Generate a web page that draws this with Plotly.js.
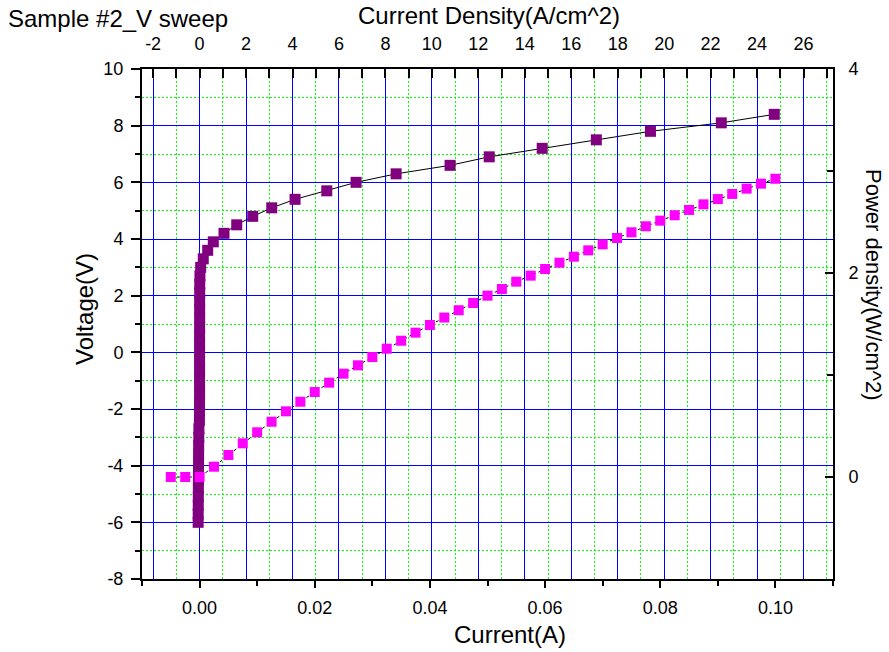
<!DOCTYPE html>
<html>
<head>
<meta charset="utf-8">
<script src="https://cdn.plot.ly/plotly-3.0.1.min.js"></script>
<style>
  html, body { margin: 0; padding: 0; background: #ffffff; }
  #chart { width: 889px; height: 652px; }
</style>
</head>
<body>
<div id="chart"></div>
<script>
// ---- Data ----
// Sample #2, voltage sweep: voltage (V) and measured current (A)
const sweepVoltageV = [
  -6.0, -5.7, -5.4, -5.1, -4.8, -4.5, -4.2, -3.9, -3.6, -3.3,
  -3.0, -2.7, -2.4, -2.1, -1.8, -1.5, -1.2, -0.9, -0.6, -0.3,
   0.0,  0.3,  0.6,  0.9,  1.2,  1.5,  1.8,  2.1,  2.4,  2.7,
   3.0,  3.3,  3.6,  3.9,  4.2,  4.5,  4.8,  5.1,  5.4,  5.7,
   6.0,  6.3,  6.6,  6.9,  7.2,  7.5,  7.8,  8.1,  8.4
];
const sweepCurrentA = [
  -0.00025, -0.00024, -0.00023, -0.00022, -0.00021, -0.00020, -0.00019, -0.00018, -0.00017, -0.00016,
  -0.00014, -0.00012, -0.00003, -0.00002, -0.00001,  0.00000,  0.00000,  0.00000,  0.00000,  0.00000,
   0.00000,  0.00000,  0.00000,  0.00001,  0.00001,  0.00001,  0.00001,  0.00002,  0.00003,  0.00006,
   0.00019,  0.00064,  0.00141,  0.00238,  0.00424,  0.00645,  0.00923,  0.01253,  0.01658,  0.02209,
   0.02718,  0.03413,  0.04350,  0.05030,  0.05950,  0.06890,  0.07830,  0.09060,  0.09980
];

// Power density (W/cm^2) against current (A)
const powerCurrentA = [
  -0.0050, -0.0025, 0.0000, 0.0025, 0.0050, 0.0075, 0.0100, 0.0125, 0.0150, 0.0175,
   0.0200, 0.0225, 0.0250, 0.0275, 0.0300, 0.0325, 0.0350, 0.0375, 0.0400, 0.0425,
   0.0450, 0.0475, 0.0500, 0.0525, 0.0550, 0.0575, 0.0600, 0.0625, 0.0650, 0.0675,
   0.0700, 0.0725, 0.0750, 0.0775, 0.0800, 0.0825, 0.0850, 0.0875, 0.0900, 0.0925,
   0.0950, 0.0975, 0.1000
];
const powerDensityWcm2 = [
  0.000, 0.000, 0.000, 0.101, 0.216, 0.330, 0.438, 0.542, 0.644, 0.738,
  0.833, 0.925, 1.013, 1.095, 1.176, 1.258, 1.336, 1.415, 1.490, 1.563,
  1.635, 1.706, 1.778, 1.843, 1.915, 1.974, 2.039, 2.101, 2.160, 2.222,
  2.281, 2.343, 2.399, 2.458, 2.513, 2.566, 2.618, 2.673, 2.725, 2.775,
  2.827, 2.876, 2.924
];

// Device area used for the Current Density (top) axis
const deviceAreaCm2 = 0.004034;

// Axis ranges
const currentRangeA = [-0.01, 0.11];
const voltageRangeV = [-8, 10];
const powerRange = [-1, 4];

// Tick labels (plain hyphen minus, as in the original)
const voltageTickVals = [-8, -6, -4, -2, 0, 2, 4, 6, 8, 10];
const voltageTickText = ['-8', '-6', '-4', '-2', '0', '2', '4', '6', '8', '10'];
const densityTickVals = [-2, 0, 2, 4, 6, 8, 10, 12, 14, 16, 18, 20, 22, 24, 26];
const densityTickText = ['-2', '0', '2', '4', '6', '8', '10', '12', '14', '16', '18', '20', '22', '24', '26'];
const powerTickVals = [0, 2, 4];
const powerTickText = ['0', '2', '4'];

// Text
const chartTitle = 'Sample #2_V sweep';
const bottomTitle = 'Current(A)';
const topTitle = 'Current Density(A/cm^2)';
const leftTitle = 'Voltage(V)';
const rightTitle = 'Power density(W/cm^2)';

// ---- Styling ----
const FONT = 'Liberation Sans, Arial, Helvetica, sans-serif';
const BLUE = '#0000ff';
const GREEN = '#00ff00';
const PLOT_L = 142, PLOT_R = 833, PLOT_T = 69, PLOT_B = 579;
const PW = PLOT_R - PLOT_L, PH = PLOT_B - PLOT_T;
const px2paperX = (px) => (px - PLOT_L) / PW;
const px2paperY = (py) => (PLOT_B - py) / PH;

const traces = [
  {
    name: 'V sweep',
    x: sweepCurrentA,
    y: sweepVoltageV,
    xaxis: 'x', yaxis: 'y',
    type: 'scatter',
    mode: 'lines+markers',
    line: { color: '#000000', width: 1 },
    marker: { symbol: 'square', size: 11, color: '#800080', line: { width: 0 } },
    showlegend: false,
    hoverinfo: 'skip'
  },
  {
    name: 'Power density',
    x: powerCurrentA,
    y: powerDensityWcm2,
    xaxis: 'x', yaxis: 'y2',
    type: 'scatter',
    mode: 'lines+markers',
    line: { color: '#000000', width: 1, dash: 'dot' },
    marker: { symbol: 'square', size: 10, color: '#ff00ff', line: { width: 0 } },
    showlegend: false,
    hoverinfo: 'skip'
  },
  {
    // carrier so the top (current density) axis gets its subplot
    x: [null], y: [null],
    xaxis: 'x2', yaxis: 'y',
    type: 'scatter', mode: 'markers',
    showlegend: false, hoverinfo: 'skip'
  }
];

const tickFont = { family: FONT, size: 18, color: '#000000' };
const titleFont = { family: FONT, size: 24, color: '#000000' };
const sideTitleFont = { family: FONT, size: 22, color: '#000000' };
const DOTS = '2px,2px';

const layout = {
  width: 889,
  height: 652,
  paper_bgcolor: '#ffffff',
  plot_bgcolor: '#ffffff',
  margin: { l: PLOT_L, r: 889 - PLOT_R, t: PLOT_T, b: 652 - PLOT_B, pad: 0 },
  showlegend: false,
  title: {
    text: chartTitle,
    font: titleFont,
    x: 8 / 889, xanchor: 'left', xref: 'container',
    y: 1 - 19 / 652, yanchor: 'middle', yref: 'container'
  },
  xaxis: {
    range: currentRangeA,
    tick0: 0, dtick: 0.02,
    tickformat: '.2f',
    ticks: 'outside', ticklen: 7, tickwidth: 2, tickcolor: '#000000',
    minor: { tickmode: 'linear', tick0: 0, dtick: 0.01, ticks: 'outside', ticklen: 5, tickwidth: 2, tickcolor: '#000000', showgrid: false },
    showgrid: false, zeroline: false,
    showline: true, linecolor: '#000000', linewidth: 2,
    tickfont: tickFont,
    ticklabelstandoff: 4,
    automargin: false
  },
  xaxis2: {
    overlaying: 'x',
    side: 'top',
    anchor: 'y',
    range: [currentRangeA[0] / deviceAreaCm2, currentRangeA[1] / deviceAreaCm2],
    tickmode: 'array', tickvals: densityTickVals, ticktext: densityTickText,
    ticks: 'inside', ticklen: 9, tickwidth: 2, tickcolor: '#000000',
    minor: { tickmode: 'linear', tick0: 0, dtick: 1, ticks: 'inside', ticklen: 9, tickwidth: 2, tickcolor: '#000000',
             showgrid: true, gridcolor: GREEN, gridwidth: 1, griddash: DOTS },
    showgrid: true, gridcolor: BLUE, gridwidth: 1,
    zeroline: false,
    showline: true, linecolor: '#000000', linewidth: 2,
    tickfont: tickFont,
    ticklabelstandoff: 10,
    automargin: false
  },
  yaxis: {
    range: voltageRangeV,
    tickmode: 'array', tickvals: voltageTickVals, ticktext: voltageTickText,
    ticks: 'outside', ticklen: 9, tickwidth: 2, tickcolor: '#000000',
    minor: { tickmode: 'linear', tick0: 0, dtick: 1, ticks: 'outside', ticklen: 5, tickwidth: 2, tickcolor: '#000000',
             showgrid: true, gridcolor: GREEN, gridwidth: 1, griddash: DOTS },
    showgrid: true, gridcolor: BLUE, gridwidth: 1,
    zeroline: false,
    showline: true, linecolor: '#000000', linewidth: 2,
    tickfont: tickFont,
    ticklabelstandoff: 4,
    automargin: false
  },
  yaxis2: {
    overlaying: 'y',
    side: 'right',
    anchor: 'x',
    range: powerRange,
    tickmode: 'array', tickvals: powerTickVals, ticktext: powerTickText,
    ticks: 'inside', ticklen: 8, tickwidth: 2, tickcolor: '#000000',
    minor: { tickmode: 'linear', tick0: 0, dtick: 1, ticks: 'inside', ticklen: 6, tickwidth: 2, tickcolor: '#000000', showgrid: false },
    showgrid: false, zeroline: false,
    showline: true, linecolor: '#000000', linewidth: 2,
    tickfont: tickFont,
    ticklabelstandoff: 10,
    automargin: false
  },
  annotations: [
    { // top axis title
      text: topTitle, font: titleFont,
      xref: 'paper', yref: 'paper',
      x: px2paperX(489), y: px2paperY(16),
      xanchor: 'center', yanchor: 'middle', showarrow: false
    },
    { // bottom axis title
      text: bottomTitle, font: titleFont,
      xref: 'paper', yref: 'paper',
      x: px2paperX(510), y: px2paperY(634),
      xanchor: 'center', yanchor: 'middle', showarrow: false
    },
    { // left axis title
      text: leftTitle, font: titleFont,
      xref: 'paper', yref: 'paper',
      x: px2paperX(84), y: px2paperY(309),
      xanchor: 'center', yanchor: 'middle', textangle: -90, showarrow: false
    },
    { // right axis title
      text: rightTitle, font: sideTitleFont,
      xref: 'paper', yref: 'paper',
      x: px2paperX(874), y: px2paperY(285),
      xanchor: 'center', yanchor: 'middle', textangle: 90, showarrow: false
    }
  ]
};

Plotly.newPlot('chart', traces, layout, { staticPlot: true, displayModeBar: false });
</script>
</body>
</html>
